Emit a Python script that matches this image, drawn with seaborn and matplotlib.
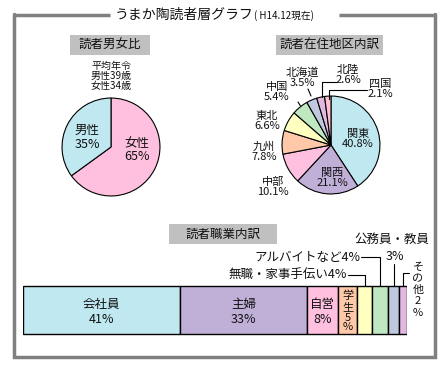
import matplotlib
matplotlib.use("Agg")
import matplotlib.pyplot as plt
import seaborn as sns
import numpy as np

# ---------------- data ----------------
gender_labels = ["女性", "男性"]
gender_values = [65, 35]
avg_age_note = ["平均年令", "男性39歳", "女性34歳"]

region_labels = ["関東", "関西", "中部", "九州", "東北", "中国", "北海道", "北陸", "四国"]
region_values = [40.8, 21.1, 10.1, 7.8, 6.6, 5.4, 3.5, 2.6, 2.1]

job_labels = ["会社員", "主婦", "自営", "学生", "無職・家事手伝い", "アルバイトなど", "公務員・教員", "その他"]
job_values = [41, 33, 8, 5, 4, 4, 3, 2]

title_main = "うまか陶読者層グラフ"
title_sub = "( H14.12現在)"
panel_titles = ["読者男女比", "読者在住地区内訳", "読者職業内訳"]

# ---------------- style ----------------
sns.set_theme(style="white")
plt.rcParams["font.family"] = ["Noto Sans CJK JP", "DejaVu Sans"]

C_BLUE = "#C0E8F0"
C_LAV = "#C0B0D8"
C_PINK = "#FFC0E0"
C_SALMON = "#FFC8A8"
C_YEL = "#FFFFC0"
C_GREEN = "#C0E8C0"
C_BGRAY = "#C0C8E0"
C_PURP = "#E0B8E0"
C_PINK2 = "#FFC0D0"
TXT = "#111111"

gender_colors = sns.color_palette([C_PINK, C_BLUE])
region_colors = sns.color_palette([C_BLUE, C_LAV, C_PINK, C_SALMON, C_YEL, C_GREEN, C_BGRAY, C_PURP, C_PINK2])
job_colors = sns.color_palette([C_BLUE, C_LAV, C_PINK, C_SALMON, C_YEL, C_GREEN, C_BGRAY, C_PURP])

W, H = 448, 367
fig = plt.figure(figsize=(W / 100, H / 100), dpi=100)
fig.patch.set_facecolor("white")


def rect(x0, y0, w, h):
    return [x0 / W, 1 - (y0 + h) / H, w / W, h / H]


def pie_axes(cx, cy, r):
    half = r * 1.2
    ax = fig.add_axes(rect(cx - half, cy - half, 2 * half, 2 * half))
    ax.set_xlim(-1.2, 1.2)
    ax.set_ylim(-1.2, 1.2)
    ax.set_aspect("equal")
    ax.axis("off")
    return ax


wp = dict(edgecolor="black", linewidth=0.8)

# gender pie
ax1 = pie_axes(111, 147, 51)
ax1.pie(gender_values, colors=gender_colors, startangle=90, counterclock=False,
        wedgeprops=wp, radius=1.0)

# region pie
ax2 = pie_axes(331, 145, 51)
ax2.pie(region_values, colors=region_colors, startangle=90, counterclock=False,
        wedgeprops=wp, radius=1.0)

# occupation stacked bar (x: percent, y: pixel rows)
bx = fig.add_axes([23 / W, 0, 384 / W, 1])
bx.set_xlim(0, 100)
bx.set_ylim(H, 0)
bx.axis("off")
lefts = np.concatenate([[0], np.cumsum(job_values)[:-1]])
bx.barh([310] * len(job_values), job_values, left=lefts, height=48,
        color=job_colors, edgecolor="black", linewidth=1.0)
centers = lefts + np.array(job_values) / 2


def px2pct(px):
    return (px - 23) / 3.84


# ---------------- overlay (pixel coordinates) ----------------
ov = fig.add_axes([0, 0, 1, 1], zorder=5)
ov.set_xlim(0, W)
ov.set_ylim(H, 0)
ov.axis("off")
ov.patch.set_alpha(0)

FR = "#808080"
ov.plot([14, 110], [15, 15], color=FR, lw=2.5, solid_capstyle="butt")
ov.plot([339, 435], [15, 15], color=FR, lw=2.5, solid_capstyle="butt")
ov.plot([14, 14, 435, 435], [14, 357, 357, 14], color=FR, lw=2.5, solid_joinstyle="miter")

ov.text(253, 15, title_main, ha="right", va="center", fontsize=10, color=TXT)
ov.text(254, 16, title_sub, ha="left", va="center", fontsize=7, color=TXT)

# gray title boxes
for (x0, y0, w, h), t in zip([(70, 35, 80, 20), (276, 35, 107, 20), (169, 224, 108, 20)], panel_titles):
    ov.add_patch(plt.Rectangle((x0, y0), w, h, facecolor="#C0C0C0", edgecolor="none"))
    ov.text(x0 + w / 2, y0 + h / 2 + 0.5, t, ha="center", va="center", fontsize=9, color=TXT)

# gender labels
ov.text(111, 76, "\n".join(avg_age_note), ha="center", va="center", fontsize=7.2,
        linespacing=1.05, color=TXT)
g_pos = [(137, 150), (87, 137)]
for (x, y), lab, v in zip(g_pos, gender_labels, gender_values):
    ov.text(x, y, f"{lab}\n{v}%", ha="center", va="center", fontsize=9, linespacing=1.1, color=TXT)

# region labels
r_pos = [(358, 139), (332, 178), (273, 187), (264, 152), (267, 121),
         (277, 92), (302, 78), (348, 75), (380, 89)]
for (x, y), lab, v in zip(r_pos, region_labels, region_values):
    ov.text(x, y, f"{lab}\n{v}%", ha="center", va="center", fontsize=8, linespacing=1.05, color=TXT)
# region leader lines
ov.plot([298, 300.5], [102, 106], color="black", lw=0.8)
ov.plot([308, 311], [89, 96], color="black", lw=0.8)
ov.plot([337, 322, 322], [82, 82, 97], color="black", lw=0.8)
ov.plot([367, 329, 329], [90, 90, 99], color="black", lw=0.8)


def vtext(x, ys, chars, fs):
    for y, ch in zip(ys, chars):
        ov.text(x, y, ch, ha="center", va="center", fontsize=fs, color=TXT)


# bar labels
for i in range(3):
    ov.text(23 + centers[i] * 3.84, 312, f"{job_labels[i]}\n{job_values[i]}%", ha="center",
            va="center", fontsize=9, linespacing=1.15, color=TXT)
vtext(23 + centers[3] * 3.84, [296, 307.5, 318, 327.5],
      list(job_labels[3]) + [str(job_values[3]), "%"], 8)

# annotations above bar
ov.text(347, 275, f"{job_labels[4]}{job_values[4]}%", ha="right", va="center", fontsize=9, color=TXT)
bx.plot([px2pct(348), centers[4], centers[4]], [275, 275, 286], color="black", lw=0.8, clip_on=False)
ov.text(360, 257, f"{job_labels[5]}{job_values[5]}%", ha="right", va="center", fontsize=9, color=TXT)
bx.plot([px2pct(361), centers[5], centers[5]], [257, 257, 286], color="black", lw=0.8, clip_on=False)
ov.text(392, 239, job_labels[6], ha="center", va="center", fontsize=9, color=TXT)
ov.text(395, 256, f"{job_values[6]}%", ha="center", va="center", fontsize=9, color=TXT)
bx.plot([centers[6], centers[6]], [264, 286], color="black", lw=0.8, clip_on=False)
vtext(418, [267, 278.5, 290, 301.5, 312.5],
      list(job_labels[7]) + [str(job_values[7]), "%"], 8)
bx.plot([px2pct(409), centers[7], centers[7]], [273, 273, 286], color="black", lw=0.8, clip_on=False)

fig.savefig("out.png", dpi=100, facecolor="white")
